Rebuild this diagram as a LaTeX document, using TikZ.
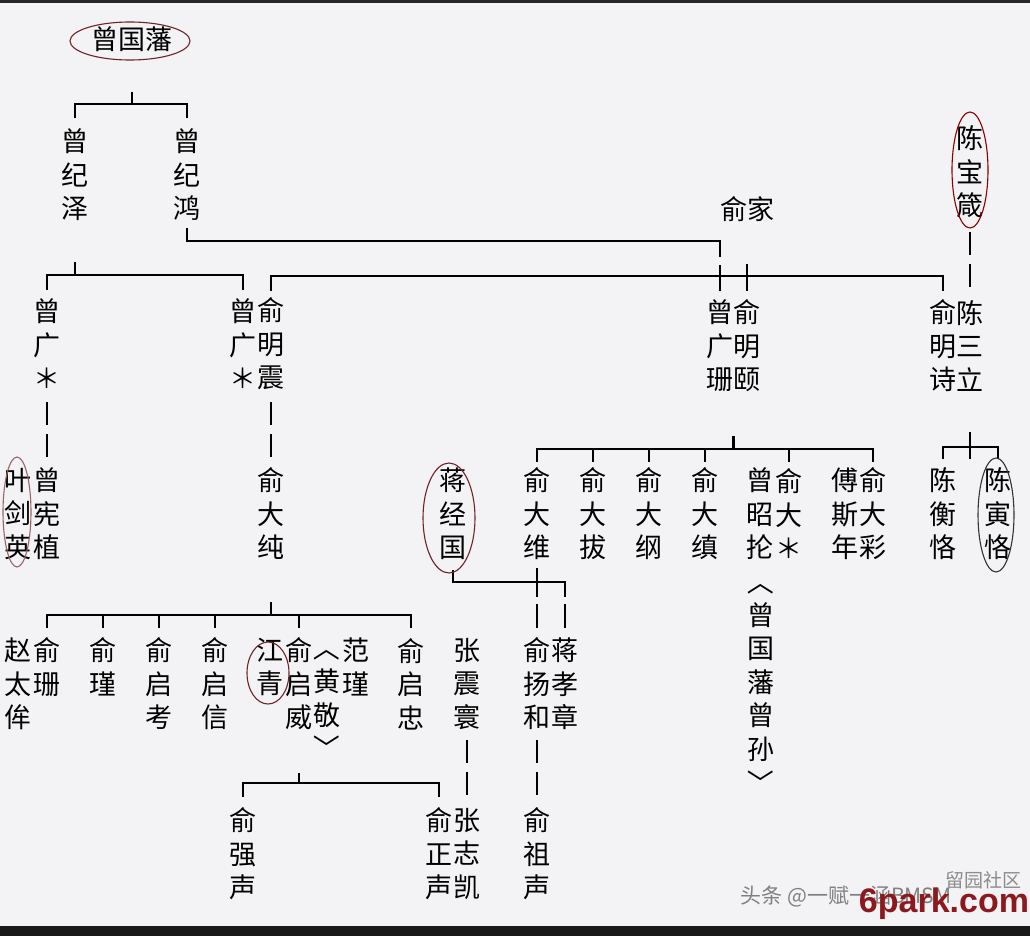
\documentclass[tikz,border=0pt]{standalone}
\usepackage{fontspec}
\setmainfont{Noto Sans CJK SC}
\newfontfamily\latinwm{Liberation Sans}
\usetikzlibrary{positioning,calc}
\definecolor{paper}{RGB}{243,242,244}
\definecolor{inkred}{RGB}{110,35,40}
\definecolor{parkred}{RGB}{140,25,30}
\newcommand{\capup}{\rotatebox[origin=c]{-90}{〈}}
\newcommand{\capdown}{\rotatebox[origin=c]{-90}{〉}}

\begin{document}
\begin{tikzpicture}[x=1pt, y=-1pt,
  person/.style={inner sep=0pt, align=center, font=\fontsize{27}{33.5}\selectfont},
  link/.style={line width=2.2pt},
  broken/.style={line width=2.2pt, dash pattern=on 23pt off 9pt},
  ring/.style={draw=#1, line width=1.1pt}]
\fill[paper] (0,0) rectangle (1030,936);
\fill[black!85] (0,0) rectangle (1030,3); \fill[black!90] (0,926) rectangle (1030,936);
\useasboundingbox (0,0) rectangle (1030,936);

% generations, top to bottom
\node[person] (zgf) at (132,39) {曾国藩};
\foreach \n/\x/\y/\t in {zjz/75/175/曾\\纪\\泽, zjh/187/175/曾\\纪\\鸿, yujia/747/209/俞家, cbz/970/172/陈\\宝\\箴}
  \node[person] (\n) at (\x,\y) {\t};
\foreach \n/\x/\y/\t in {zg1/47/344/曾\\广\\＊, zg2/243/344/曾\\广\\＊, ymz/271/344/俞\\明\\震, zgs/720/346/曾\\广\\珊, ymy/747/346/俞\\明\\颐, yms/943/346/俞\\明\\诗, csl/970/346/陈\\三\\立}
  \node[person] (\n) at (\x,\y) {\t};
\foreach \n/\x/\t in {yjy/18/叶\\剑\\英, zxz/47/曾\\宪\\植, ydc/271/俞\\大\\纯, jjg/453/蒋\\经\\国, ydw/537/俞\\大\\维, ydb/593/俞\\大\\拔, ydg/649/俞\\大\\纲, ydz/705/俞\\大\\缜, zzl/760/曾\\昭\\抡, yd/789/俞\\大\\＊, fsn/845/傅\\斯\\年, ydcai/873/俞\\大\\彩, chk/943/陈\\衡\\恪, cyk/998/陈\\寅\\恪}
  \node[person] (\n) at (\x,514) {\t};
\node[person] (zgsun) at (761,682) {\capup\\曾\\国\\藩\\曾\\孙\\\capdown};
\foreach \n/\x/\y/\t in {zty/18/684/赵\\太\\侔, ys/47/667/俞\\珊, yj/103/667/俞\\瑾, yqk/159/684/俞\\启\\考, yqx/215/684/俞\\启\\信, jq/270/667/江\\青, yqw/299/684/俞\\启\\威, hj/327/698/\capup\\黄\\敬\\\capdown, fj/356/667/范\\瑾, yqz/411/684/俞\\启\\忠, zzh/467/684/张\\震\\寰, yyh/537/684/俞\\扬\\和, jxz/565/684/蒋\\孝\\章}
  \node[person] (\n) at (\x,\y) {\t};
\foreach \n/\x/\t in {yqs/243/俞\\强\\声, yzs/439/俞\\正\\声, zzk/467/张\\志\\凯, yzsh/537/俞\\祖\\声}
  \node[person] (\n) at (\x,854) {\t};

% brackets
\draw[link] (zgf |- 0,92) -- (zgf |- 0,104);
\draw[link] (zjz |- 0,118) |- (zjh |- 0,104) -- (zjh |- 0,118);
\draw[link] (zjz |- 0,262) -- (zjz |- 0,275);
\draw[link] (zg1 |- 0,290) |- (zg2 |- 0,275) -- (zg2 |- 0,290);
\draw[link] (zjh |- 0,228) |- (zgs |- 0,241) -- (zgs |- 0,257);
\draw[link] (zgs |- 0,265) -- (zgs |- 0,291);
\draw[link] (ymz |- 0,291) |- (yms |- 0,276) -- (yms |- 0,291);
\draw[link] (ymy |- 0,264) -- (ymy |- 0,291);
\draw[broken] (cbz |- 0,232) -- (csl |- 0,291);
\draw[broken] (zg1 |- 0,402) -- (zxz |- 0,457);
\draw[broken] (ymz |- 0,402) -- (ydc |- 0,457);
\coordinate (mid) at ($(zgs)!0.5!(ymy)$);
\draw[link] (mid |- 0,436) -- (mid |- 0,449);
\draw[link] (ydw |- 0,462) |- (ydcai |- 0,449) -- (ydcai |- 0,462);
\foreach \c in {ydb,ydg,ydz,yd} \draw[link] (\c |- 0,449) -- (\c |- 0,462);
\draw[link] (csl |- 0,432) -- (csl |- 0,459);
\draw[link] (chk |- 0,459) |- (cyk |- 0,447) -- (cyk |- 0,459);
\draw[link] (ydc |- 0,602) -- (ydc |- 0,615);
\draw[link] (ys |- 0,628) |- (yqz |- 0,615) -- (yqz |- 0,628);
\foreach \c in {yj,yqk,yqx,yqw} \draw[link] (\c |- 0,615) -- (\c |- 0,628);
\draw[link] (jjg |- 0,570) |- (jxz |- 0,582) -- (jxz |- 0,597);
\draw[link] (ydw |- 0,568) -- (ydw |- 0,597);
\draw[link] (jxz |- 0,604) -- (jxz |- 0,628);
\draw[link] (yyh |- 0,604) -- (yyh |- 0,628);
\draw[link] (yqw |- 0,773) -- (yqw |- 0,783);
\draw[link] (yqs |- 0,797) |- (yzs |- 0,783) -- (yzs |- 0,797);
\draw[broken] (zzh |- 0,740) -- (zzk |- 0,797);
\draw[broken] (yyh |- 0,740) -- (yzsh |- 0,797);

% circled names
\draw[ring=inkred] ($(zgf)+(-2,2)$) ellipse (60pt and 19pt);
\draw[ring=inkred!70] ($(yjy)+(-1,-2)$) ellipse (14pt and 55pt);
\draw[ring=red!55!black] ($(cbz)+(0,-2)$) ellipse (18pt and 58pt);
\draw[ring=inkred] ($(jjg)+(-4,4)$) ellipse (26pt and 55pt);
\draw[ring=inkred] ($(jq)+(-2,6)$) ellipse (21pt and 31pt);
\draw[ring=black!80] ($(cyk)+(-2,1)$) ellipse (18pt and 57pt);

% marks
\node[text=black!50, font=\fontsize{21}{21}\selectfont] (tt) at (846,896) {头条 @一赋一涵BMSM};
\node[text=black!45, font=\fontsize{19}{19}\selectfont] (ly) at (983,880) {留园社区};
\node[text=parkred, font=\latinwm\bfseries\fontsize{34}{34}\selectfont] (park) at (944,904) {6park.com};
\end{tikzpicture}
\end{document}
